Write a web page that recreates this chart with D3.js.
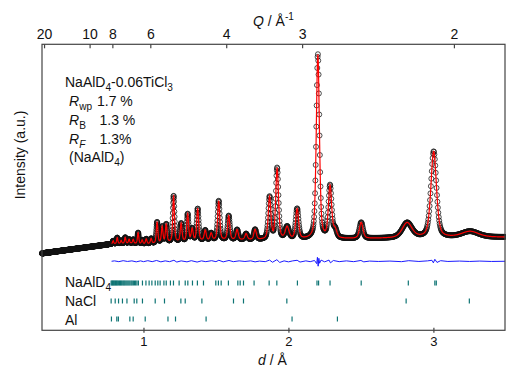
<!DOCTYPE html>
<html><head><meta charset="utf-8">
<script src="https://cdn.jsdelivr.net/npm/d3@7"></script>
<style>body{margin:0;background:#fff}text{font-family:"Liberation Sans",Arial,Helvetica,sans-serif;fill:#111}</style>
</head><body><svg id="c" width="506" height="367"></svg>
<script>
// ---- data ----
const dTicks = [1, 2, 3];
const qTicks = [20, 10, 8, 6, 4, 3, 2];
// background (d in Å, intensity a.u.)
const bgD = [0.30, 0.40, 0.50, 0.60, 0.70, 0.78, 0.90, 1.00, 1.20, 1.50, 2.00, 2.50, 3.00, 3.50];
const bgI = [-10, 0, 10, 20, 30, 38, 41, 36, 46, 56, 59, 64, 69, 72];
// Bragg peaks: position, height, width (0 = instrumental)
const peakD = [0.791,0.819,0.846,0.874,0.901,0.929,0.963,0.991,1.019,1.053,1.094,1.129,1.157,1.208,1.260,1.305,1.336,1.374,1.426,1.467,1.519,1.588,1.646,1.708,1.770,1.870,1.922,1.991,2.060,2.203,2.287,2.322,2.502,2.819,3.002,3.253];
const peakH = [15,30,15,30,20,20,56,20,25,25,106,81,91,233,91,137,61,162,51,35,198,122,51,30,51,213,360,61,152,935,264,41,81,76,436,30];
const peakW = [0,0,0,0,0,0,0,0,0,0,0,0,0,0,0,0,0,0,0,0,0,0,0,0,0,0,0,0.03,0,0,0,0,0,0.08,0.045,0.14];
const fitStart = 0.78;
// difference curve (obs - calc)
const diffD = [0.78,0.80,0.83,0.86,0.89,0.92,0.95,0.98,1.00,1.03,1.06,1.09,1.12,1.15,1.18,1.21,1.23,1.26,1.30,1.33,1.37,1.40,1.43,1.47,1.50,1.52,1.55,1.59,1.62,1.66,1.70,1.74,1.77,1.80,1.84,1.87,1.89,1.92,1.94,1.97,2.00,2.03,2.06,2.08,2.12,2.15,2.18,2.195,2.200,2.205,2.210,2.215,2.225,2.25,2.28,2.29,2.31,2.35,2.40,2.45,2.50,2.52,2.56,2.62,2.70,2.78,2.83,2.90,2.96,2.99,3.00,3.01,3.025,3.05,3.10,3.18,3.25,3.32,3.40,3.494];
const diffV = [0,2,-2,3,-1,2,-3,2,-2,3,-2,4,-3,2,-2,5,-4,2,-3,3,-4,2,-2,3,-2,5,-3,4,-2,2,-1,2,-3,1,-2,6,-5,8,-6,2,-3,2,5,-4,2,-2,4,-12,20,-25,15,-10,6,-3,6,-8,4,-2,2,-2,4,-3,1,-1,1,-2,3,-1,2,5,-8,10,-6,3,-1,1,-1,1,-1,0];
const diffOffset = -50;
// reflection markers
const phaseNames = ["NaAlD4", "NaCl", "Al"];
const reflNaAlD4 = [0.777,0.782,0.787,0.792,0.797,0.802,0.807,0.813,0.818,0.823,0.829,0.835,0.841,0.847,0.853,0.860,0.866,0.872,0.879,0.886,0.893,0.900,0.907,0.915,0.922,0.930,0.938,0.946,0.955,0.965,0.993,1.017,1.039,1.058,1.081,1.099,1.115,1.141,1.157,1.186,1.207,1.246,1.288,1.306,1.338,1.372,1.414,1.499,1.517,1.536,1.586,1.651,1.667,1.690,1.763,1.867,1.920,2.062,2.197,2.208,2.287,2.502,2.827,3.010,3.020];
const reflNaCl = [0.777,0.805,0.828,0.855,0.886,0.936,0.954,0.993,1.081,1.145,1.258,1.288,1.403,1.621,1.690,1.989,2.812,3.248];
const reflAl = [0.779,0.816,0.827,0.906,0.929,1.012,1.169,1.221,1.432,2.025,2.338];
const refl = [reflNaAlD4, reflNaCl, reflAl];

// ---- chart ----
const svg = d3.select("#c");
const x = d3.scaleLinear().domain([0.30, 3.494]).range([42, 505]);
const y = d3.scaleLinear().domain([-400, 1050]).range([330.3, 44.3]);
const bg = d3.scaleLinear().domain(bgD).range(bgI).clamp(true);
const eta = 0.45;
function calc(d) {
  let v = bg(d);
  if (d < fitStart - 0.02) return v;
  for (let i = 0; i < peakD.length; i++) {
    const w = peakW[i] || 0.0115 * peakD[i];
    const t = (d - peakD[i]) / (w / 2);
    const L = 1 / (1 + t * t);
    const G = Math.exp(-Math.LN2 * t * t);
    v += peakH[i] * (eta * L + (1 - eta) * G);
  }
  return v;
}
const grid = [];
for (let d = 0.30; d <= 3.494; d *= 1.001) grid.push(d);
const pts = grid.map(d => ({d, v: calc(d)}));

// observed circles
svg.append("g").selectAll("circle").data(pts).join("circle")
  .attr("cx", p => x(p.d)).attr("cy", p => y(p.v)).attr("r", 2.5)
  .attr("fill", "none").attr("stroke", "#111").attr("stroke-width", 0.75);

// calculated
svg.append("path").datum(pts.filter(p => p.d >= fitStart))
  .attr("d", d3.line().x(p => x(p.d)).y(p => y(p.v)))
  .attr("fill", "none").attr("stroke", "#ff0000").attr("stroke-width", 1.2);

// difference
svg.append("path").datum(diffD.map((d, i) => [d, diffV[i]]))
  .attr("d", d3.line().x(p => x(p[0])).y(p => y(diffOffset + p[1])))
  .attr("fill", "none").attr("stroke", "#1a1aff").attr("stroke-width", 1);

// reflection ticks
const rowY = d3.scalePoint().domain(phaseNames).range([283, 319]);
phaseNames.forEach((n, k) => {
  svg.append("g").selectAll("line").data(refl[k]).join("line")
    .attr("x1", d => x(d)).attr("x2", d => x(d))
    .attr("y1", rowY(n) - 2.5).attr("y2", rowY(n) + 2.5)
    .attr("stroke", "#0e7474").attr("stroke-width", 1.2);
});

// frame
svg.append("rect").attr("x", 42).attr("y", 44.3).attr("width", 463).attr("height", 286)
  .attr("fill", "none").attr("stroke", "#444").attr("stroke-width", 1.2);

// bottom axis
const ax = svg.append("g").attr("transform", "translate(0,330.3)")
  .call(d3.axisBottom(x).tickValues(dTicks).tickSize(2.5).tickFormat(d3.format("d")));
ax.select(".domain").remove();
ax.selectAll("line").attr("y1", -2.5).attr("stroke", "#444").attr("stroke-width", 1.2);
ax.selectAll("text").attr("y", 16).attr("dy", null).style("font-size", "13px")
  .style("font-family", "'Liberation Sans',Arial,sans-serif").attr("fill", "#111");

// top axis (Q = 2π/d)
const at = svg.append("g").attr("transform", "translate(0,44.3)")
  .call(d3.axisTop(x).tickValues(qTicks.map(q => 2 * Math.PI / q)).tickSize(-4)
    .tickFormat((d, i) => qTicks[i]));
at.select(".domain").remove();
at.selectAll("line").attr("stroke", "#444").attr("stroke-width", 1.2);
at.selectAll("text").attr("y", -5).attr("dy", null).style("font-size", "14px")
  .style("font-family", "'Liberation Sans',Arial,sans-serif").attr("fill", "#111");

// helper for rich text
function rich(xp, yp, parts, size) {
  const t = svg.append("text").attr("x", xp).attr("y", yp).style("font-size", size + "px");
  parts.forEach(p => {
    const s = t.append("tspan").text(p.t);
    if (p.sub) s.attr("dy", 4).style("font-size", (size * 0.72) + "px");
    if (p.sup) s.attr("dy", -6).style("font-size", (size * 0.72) + "px");
    if (p.back) s.attr("dy", p.back);
    if (p.i) s.style("font-style", "italic");
  });
  return t;
}
rich(65, 86.5, [{t: "NaAlD"}, {t: "4", sub: 1}, {t: "-0.06TiCl", back: -4}, {t: "3", sub: 1}], 14);
rich(69, 106, [{t: "R", i: 1}, {t: "wp", sub: 1}], 14);
rich(97, 106, [{t: "1.7 %"}], 14);
rich(69, 125, [{t: "R", i: 1}, {t: "B", sub: 1}], 14);
rich(99.5, 125, [{t: "1.3 %"}], 14);
rich(69, 143.5, [{t: "R", i: 1}, {t: "F", sub: 1, i: 1}], 14);
rich(99.5, 143.5, [{t: "1.3%"}], 14);
rich(69, 162, [{t: "(NaAlD"}, {t: "4", sub: 1}, {t: ")", back: -4}], 14);

// phase labels
rich(65, 287, [{t: "NaAlD"}, {t: "4", sub: 1}], 14);
rich(65, 306, [{t: "NaCl"}], 14);
rich(65, 324.5, [{t: "Al"}], 14);

// axis titles
svg.append("text").attr("transform", "translate(25,155) rotate(-90)")
  .attr("text-anchor", "middle").style("font-size", "14px").text("Intensity (a.u.)");
rich(258, 365, [{t: "d", i: 1}, {t: " / Å"}], 14);
rich(253, 26, [{t: "Q", i: 1}, {t: " / Å"}, {t: "-1", sup: 1}], 14);
</script></body></html>
